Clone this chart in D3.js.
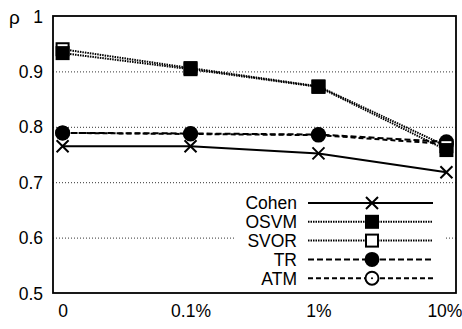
<!DOCTYPE html>
<html><head><meta charset="utf-8">
<script src="https://cdn.jsdelivr.net/npm/d3@7"></script>
<style>body{margin:0;background:#fff}svg{display:block}text{font-family:"Liberation Sans",Arial,Helvetica,sans-serif}</style>
</head><body><svg id="c" width="462" height="329"></svg>
<script>
const categories = ["0", "0.1%", "1%", "10%"];
const yTicks = [0.5, 0.6, 0.7, 0.8, 0.9, 1];
const yTickLabels = ["0.5", "0.6", "0.7", "0.8", "0.9", "1"];
const cohen = [0.765, 0.765, 0.752, 0.718];
const osvm  = [0.933, 0.904, 0.872, 0.758];
const svor  = [0.940, 0.906, 0.873, 0.765];
const tr    = [0.789, 0.788, 0.786, 0.773];
const atm   = [0.789, 0.787, 0.785, 0.769];
const seriesNames = ["Cohen", "OSVM", "SVOR", "TR", "ATM"];
const xLabel = "label noise ratio";

const series = [
  {name: seriesNames[0], values: cohen, dash: null, width: 2, marker: "cross"},
  {name: seriesNames[1], values: osvm, dash: "1.5,1", width: 2, marker: "sqFill"},
  {name: seriesNames[2], values: svor, dash: "1.5,1", width: 2, marker: "sqOpen"},
  {name: seriesNames[3], values: tr, dash: "6,3", width: 2, marker: "cirFill"},
  {name: seriesNames[4], values: atm, dash: "5,3", width: 2, marker: "cirOpen"}
];

const svg = d3.select("#c");
const L = 53, R = 456, T = 16, B = 293;
const x = d3.scalePoint().domain(categories).range([L, R]).padding(0.075);
const y = d3.scaleLinear().domain([0.5, 1]).range([B, T]);

// gridlines
svg.append("g").selectAll("line").data(yTicks.filter(v => v > 0.5 && v < 1)).join("line")
  .attr("x1", L).attr("x2", R).attr("y1", d => y(d) + 0.5).attr("y2", d => y(d) + 0.5)
  .attr("stroke", "#333").attr("stroke-width", 1).attr("stroke-dasharray", "1,2");

// axes
const yAxis = d3.axisLeft(y).tickValues(yTicks).tickFormat((d, i) => yTickLabels[i]).tickSize(0).tickPadding(10);
const gy = svg.append("g").attr("transform", `translate(${L},0)`).call(yAxis);
gy.select(".domain").remove();
gy.selectAll("text").attr("font-size", 17.5).attr("fill", "#000").attr("dy", "0.35em");

const xAxis = d3.axisBottom(x).tickSize(0).tickPadding(12);
const gx = svg.append("g").attr("transform", `translate(0,${B})`).call(xAxis);
gx.select(".domain").remove();
gx.selectAll("text").attr("font-size", 17.5).attr("fill", "#000");
gx.selectAll(".tick").filter(d => d === "10%").select("text").attr("dx", -2);

svg.append("text").attr("x", 9).attr("y", 24).attr("font-size", 19).text("ρ");
svg.append("text").attr("x", (L + R) / 2 + 20).attr("y", 342).attr("text-anchor", "middle")
  .attr("font-size", 17.5).text(xLabel);

// markers
function drawMarker(g, type, cx, cy) {
  const s = 14;
  if (type === "cross") {
    g.append("path").attr("d", `M${cx-6},${cy-6}L${cx+6},${cy+6}M${cx-6},${cy+6}L${cx+6},${cy-6}`)
      .attr("stroke", "#000").attr("stroke-width", 2).attr("fill", "none");
  } else if (type === "sqFill") {
    g.append("rect").attr("x", cx - s/2).attr("y", cy - s/2).attr("width", s).attr("height", s).attr("fill", "#000");
  } else if (type === "sqOpen") {
    g.append("rect").attr("x", cx - s/2 + 1).attr("y", cy - s/2 + 1).attr("width", s - 2).attr("height", s - 2)
      .attr("fill", "#fff").attr("stroke", "#000").attr("stroke-width", 2);
  } else if (type === "cirFill") {
    g.append("circle").attr("cx", cx).attr("cy", cy).attr("r", 7.5).attr("fill", "#000");
  } else {
    g.append("circle").attr("cx", cx).attr("cy", cy).attr("r", 6.5).attr("fill", "#fff")
      .attr("stroke", "#000").attr("stroke-width", 2);
    g.append("circle").attr("cx", cx).attr("cy", cy).attr("r", 1).attr("fill", "#000");
  }
}

const line = d3.line().x((d, i) => x(categories[i])).y(d => y(d));
const gs = svg.append("g");
series.forEach(s => {
  gs.append("path").datum(s.values).attr("d", line).attr("fill", "none")
    .attr("stroke", "#000").attr("stroke-width", s.width).attr("stroke-dasharray", s.dash);
});
[4, 3, 2, 1, 0].forEach(k => {
  const s = series[k];
  s.values.forEach((v, i) => drawMarker(gs, s.marker, x(categories[i]), y(v)));
});

// legend
const lg = svg.append("g");
lg.append("rect").attr("x", 236).attr("y", 190).attr("width", 209).attr("height", 98).attr("fill", "#fff");
series.forEach((s, i) => {
  const yy = 203 + i * 18.8;
  lg.append("text").attr("x", 297).attr("y", yy).attr("dy", "0.36em").attr("text-anchor", "end")
    .attr("font-size", 17.5).text(s.name);
  lg.append("line").attr("x1", 308).attr("x2", 433).attr("y1", yy).attr("y2", yy)
    .attr("stroke", "#000").attr("stroke-width", s.width).attr("stroke-dasharray", s.dash);
  drawMarker(lg, s.marker, 372, yy);
});

// frame
svg.append("rect").attr("x", L).attr("y", T).attr("width", R - L).attr("height", B - T)
  .attr("fill", "none").attr("stroke", "#000").attr("stroke-width", 1.8);
</script></body></html>
